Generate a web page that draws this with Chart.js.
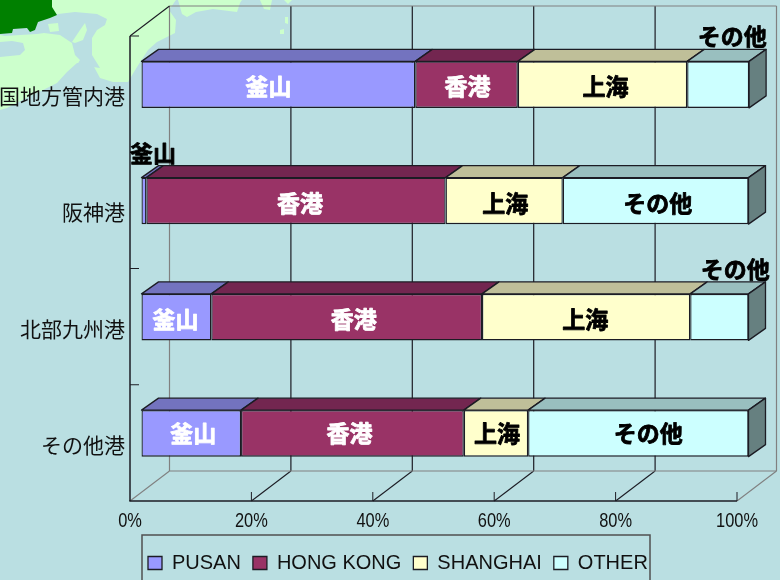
<!DOCTYPE html>
<html lang="ja">
<head>
<meta charset="utf-8">
<title>港湾別トランシップ比率</title>
<script src="https://cdn.jsdelivr.net/npm/chart.js@4"></script>
<style>
html,body{margin:0;padding:0;background:#badfe2;width:780px;height:580px;overflow:hidden}
#map{position:absolute;left:0;top:0}
#c{position:absolute;left:0;top:0}
</style>
</head>
<body>
<svg id="map" width="780" height="580" viewBox="0 0 780 580" aria-hidden="true">
  <path fill="#ccffcc" d="M0 0H176L169 10L176 20L175 33L157 42L148 50L137 67L128 82L113 82L100 78L93 65L77 63L67 72L57 83L43 90L30 96L7 108L0 110Z"/>
  <path fill="#badfe2" d="M58 14L75 12L97 14L107 19L105 25L97 30L92 38L92 55L100 68L93 67L77 65L80 60L75 55L72 43L60 35L44 33L37 34L20 35L5 36L0 35L0 30L50 18Z"/>
  <path fill="#badfe2" d="M0 42L12 41L23 43L25 50L20 55L0 57Z"/>
  <path fill="#ccffcc" d="M85 23L80 30L72 42L75 43L83 40L87 30Z"/>
  <path fill="#ccffcc" d="M48 24L58 23L59 31L50 32Z"/>
  <path fill="#008000" d="M0 0H52L52 7L57 15L50 18L38 22L35 30L30 32L27 28L13 29L12 33L0 34Z"/>
  <path fill="#ccffcc" d="M178 0L182 14L187 17L196 12L213 9L237 12L240 3L242 0Z"/>
  <path fill="#ccffcc" d="M260 0L272 0L270 10L264 9Z"/>
  <path fill="#ccffcc" d="M284 0H292L288 4Z"/>
  <path fill="#ccffcc" d="M285 17L288 17L288 24L285 23Z"/>
  <path fill="#ccffcc" d="M280 30L284 29L284 34L280 34Z"/>
</svg>
<canvas id="c" width="780" height="580"></canvas>
<script>
const ports = ['国地方管内港', '阪神港', '北部九州港', 'その他港'];
const seriesNames = ['PUSAN', 'HONG KONG', 'SHANGHAI', 'OTHER'];
const seriesShort = ['釜山', '香港', '上海', 'その他'];
const pusan = [45.1, 0.8, 11.5, 16.4];
const hongKong = [16.9, 49.3, 44.6, 36.7];
const shanghai = [27.9, 19.3, 34.3, 10.6];
const other = [10.2, 30.6, 9.6, 36.3];
const seriesValues = [pusan, hongKong, shanghai, other];
const fillColors = ['#9999ff', '#993366', '#ffffcc', '#ccffff'];
const topColors = ['#7373bf', '#732650', '#bfbf99', '#99bfbf'];
const sideColor = '#668080';
const labelColors = ['#ffffff', '#ffffff', '#000000', '#000000'];
const labelNudgeX = [[-10, 1, 3, 14], [9, 4, 1, 2], [-1, 7, -1, 16], [2, -3, 1, 10]];
const labelNudgeY = [0, 0, 0, -2];
const xTicks = [0, 20, 40, 60, 80, 100];

const ink = '#1c1c24';
const gray = '#808080';
const wall = {dx: 39.5, dy: -30};
const front = {dx: 11.5, dy: -9.5};
const depth = {dx: 17, dy: -12};
const cjkBold = '700 23px "Noto Sans CJK JP"';

function seg(ctx, x1, y1, x2, y2, color, w) {
  ctx.strokeStyle = color; ctx.lineWidth = w;
  ctx.beginPath(); ctx.moveTo(x1, y1); ctx.lineTo(x2, y2); ctx.stroke();
}
function face(ctx, pts, fill) {
  ctx.fillStyle = fill; ctx.strokeStyle = ink; ctx.lineWidth = 1.3; ctx.lineJoin = 'round';
  ctx.beginPath(); pts.forEach((p, i) => i ? ctx.lineTo(p[0], p[1]) : ctx.moveTo(p[0], p[1]));
  ctx.closePath(); ctx.fill(); ctx.stroke();
}

const box3d = {
  id: 'box3d',
  afterLayout(chart) {
    const lg = chart.legend;
    lg.left = 136; lg.top = 541; lg.right = 780;
    // the reference's axis numbers are set in a condensed face: draw the scale's own label items narrowed
    const xs = chart.scales.x;
    xs.drawLabels = function (area) {
      const ctx = this.ctx;
      this.getLabelItems(area).forEach(item => {
        const [tx, ty] = item.options.translation;
        ctx.save();
        ctx.translate(tx, ty);
        ctx.scale(0.82, 1);
        ctx.font = item.font.string;
        ctx.fillStyle = item.options.color;
        ctx.textAlign = 'center';
        ctx.textBaseline = item.options.textBaseline;
        ctx.fillText(item.label, 0, item.textOffset);
        ctx.restore();
      });
    };
  },
  beforeDatasetsDraw(chart) {
    const {ctx, scales: {x, y}} = chart;
    const left = x.getPixelForValue(0), right = x.getPixelForValue(100);
    const top = y.top, bottom = y.bottom;
    const backTop = top + wall.dy, backBottom = bottom + wall.dy;
    ctx.save();
    // back wall and floor
    xTicks.forEach(v => {
      const px = x.getPixelForValue(v);
      const color = (v === 0 || v === 100) ? gray : ink;
      seg(ctx, px + wall.dx, backTop, px + wall.dx, backBottom, color, 1.2);
      seg(ctx, px, bottom, px + wall.dx, backBottom, color, 1.1);
      if (v > 0) seg(ctx, px, bottom, px, bottom - 9, ink, 1);
    });
    seg(ctx, left + wall.dx, backTop, right + wall.dx, backTop, gray, 1.2);
    seg(ctx, left + wall.dx, backBottom, right + wall.dx, backBottom, gray, 1.2);
    seg(ctx, left, top, left + wall.dx, backTop, ink, 1.1);
    // front axes
    seg(ctx, left, top, left, bottom, ink, 1.5);
    seg(ctx, left - 0.7, bottom, right, bottom, ink, 1.5);
    ports.forEach((_, i) => {
      const ty = top + (bottom - top) * i / ports.length;
      seg(ctx, left, ty, left + 9, ty, ink, 1);
    });
    // legend frame
    ctx.strokeStyle = '#505050'; ctx.lineWidth = 1.5;
    ctx.strokeRect(142, 535, 508, 60);
    // shift the bars onto their plane and add their upper and end faces
    ctx.translate(front.dx, front.dy);
    chart.data.datasets.forEach((ds, d) => {
      chart.getDatasetMeta(d).data.forEach(el => {
        const t = el.y - el.height / 2, b = el.y + el.height / 2;
        face(ctx, [[el.base, t], [el.x, t], [el.x + depth.dx, t + depth.dy], [el.base + depth.dx, t + depth.dy]], topColors[d]);
        if (d === chart.data.datasets.length - 1) {
          face(ctx, [[el.x, t], [el.x + depth.dx, t + depth.dy], [el.x + depth.dx, b + depth.dy], [el.x, b]], sideColor);
        }
      });
    });
  },
  afterDatasetsDraw(chart) {
    const {ctx} = chart;
    chart.data.datasets.forEach((ds, d) => {
      chart.getDatasetMeta(d).data.forEach((el, i) => {
        const text = seriesShort[d];
        ctx.font = cjkBold;
        ctx.textAlign = 'center';
        ctx.textBaseline = 'middle';
        const tw = ctx.measureText(text).width;
        const width = Math.abs(el.x - el.base);
        const outside = tw + 2 > width;
        const cx = (el.x + el.base) / 2 + labelNudgeX[i][d];
        const cy = (outside ? el.y - 48 : el.y + 2) + labelNudgeY[i];
        const color = outside ? '#000000' : labelColors[d];
        ctx.fillStyle = color; ctx.strokeStyle = color; ctx.lineWidth = 0.8; ctx.lineJoin = 'round';
        ctx.strokeText(text, cx, cy);
        ctx.fillText(text, cx, cy);
      });
    });
    ctx.restore();
  }
};

new Chart(document.getElementById('c'), {
  type: 'bar',
  plugins: [box3d],
  data: {
    labels: ports,
    datasets: seriesNames.map((name, d) => ({
      label: name,
      data: seriesValues[d],
      backgroundColor: fillColors[d],
      borderColor: ink,
      borderWidth: 1.3,
      borderSkipped: false,
      clip: false,
      categoryPercentage: 1,
      barPercentage: 0.4
    }))
  },
  options: {
    indexAxis: 'y',
    responsive: false,
    animation: false,
    events: [],
    layout: {padding: {top: 36, right: 43, left: 0, bottom: 0}},
    scales: {
      x: {
        type: 'linear', stacked: true, min: 0, max: 100,
        grid: {display: false, drawTicks: false}, border: {display: false},
        afterFit(s) { s.height = 37; },
        afterBuildTicks(s) { s.ticks = xTicks.map(v => ({value: v})); },
        ticks: {
          maxRotation: 0, padding: 8, color: '#111',
          font: {family: '"Liberation Sans",Arial,sans-serif', size: 20},
          callback: v => v + '%'
        }
      },
      y: {
        type: 'category', stacked: true,
        grid: {display: false, drawTicks: false}, border: {display: false},
        afterFit(s) { s.width = 130; },
        ticks: {
          autoSkip: false, padding: 5, color: '#111', labelOffset: 2,
          font: {family: '"Noto Sans CJK JP"', size: 21}
        }
      }
    },
    plugins: {
      title: {display: false},
      tooltip: {enabled: false},
      legend: {
        position: 'bottom', align: 'start',
        labels: {
          boxWidth: 14, boxHeight: 13, padding: 12, color: '#111',
          font: {family: '"Liberation Sans",Arial,sans-serif', size: 20}
        }
      }
    }
  }
});
</script>
</body>
</html>
